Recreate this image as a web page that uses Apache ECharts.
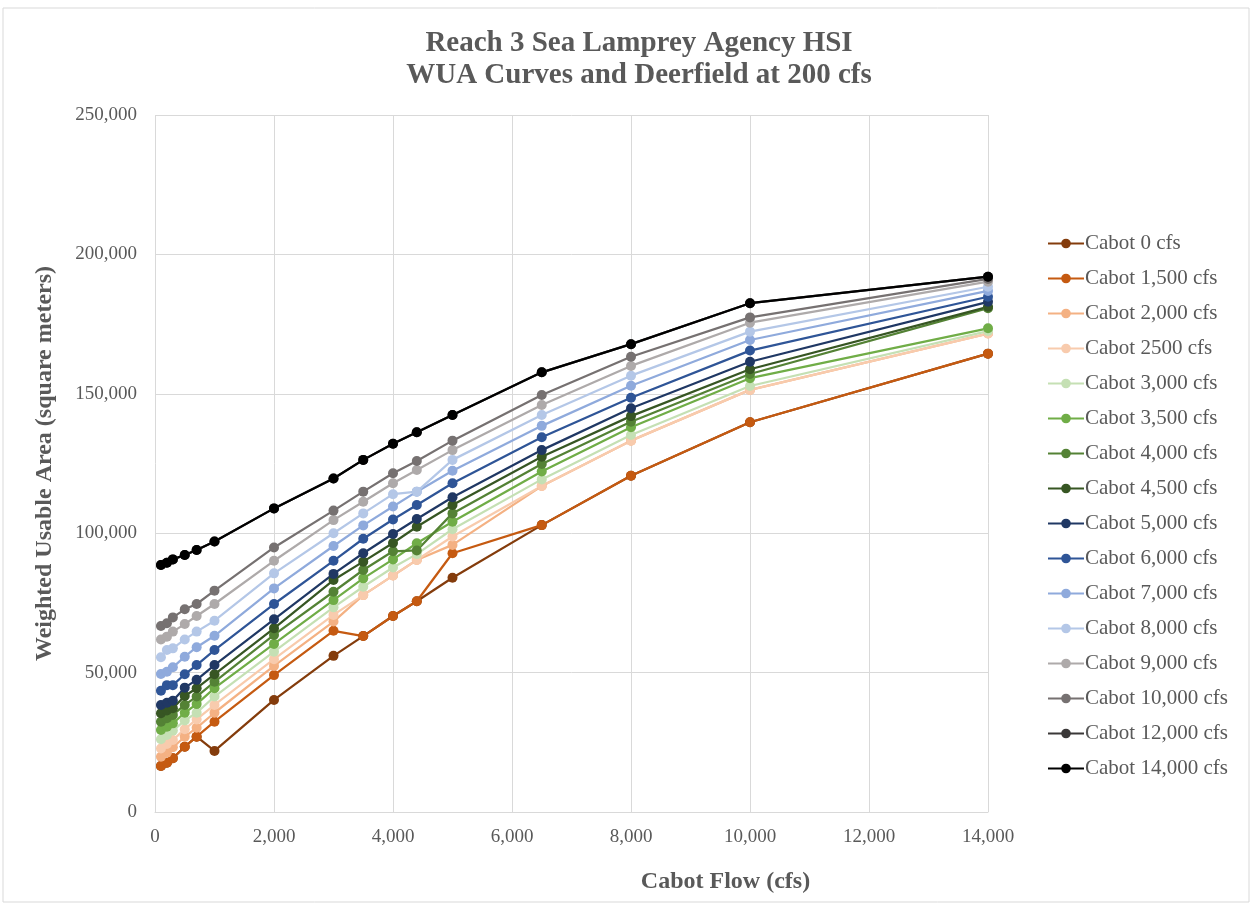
<!DOCTYPE html>
<html>
<head>
<meta charset="utf-8">
<title>Reach 3 Sea Lamprey Agency HSI</title>
<script src="https://cdn.jsdelivr.net/npm/echarts@6/dist/echarts.min.js"></script>
<style>
  html, body { margin: 0; padding: 0; background: #fff; }
  #wua-chart { width: 1252px; height: 905px; }
</style>
</head>
<body>
<div id="wua-chart"></div>
<script>
// flows on the x axis (cfs)
let flows = [100, 200, 300, 500, 700, 1000, 2000, 3000, 3500, 4000, 4400, 5000, 6500, 8000, 10000, 14000];

let seriesNames = [
  "Cabot 0 cfs", "Cabot 1,500 cfs", "Cabot 2,000 cfs", "Cabot 2500 cfs",
  "Cabot 3,000 cfs", "Cabot 3,500 cfs", "Cabot 4,000 cfs", "Cabot 4,500 cfs",
  "Cabot 5,000 cfs", "Cabot 6,000 cfs", "Cabot 7,000 cfs", "Cabot 8,000 cfs",
  "Cabot 9,000 cfs", "Cabot 10,000 cfs", "Cabot 12,000 cfs", "Cabot 14,000 cfs"
];

let seriesColors = [
  "#843C0C", "#C55A11", "#F4B183", "#F8CBAD",
  "#C5E0B4", "#70AD47", "#548235", "#375623",
  "#203864", "#2F5597", "#8FAADC", "#B4C7E7",
  "#AEAAAA", "#767171", "#3B3838", "#000000"
];

// WUA (square meters), one array per Cabot flow
let cabot0     = [16500, 17700, 19300, 23400, 27000, 21900, 40200, 56000, 63100, 70300, 75600, 84000, 102900, 120600, 139800, 164400];
let cabot1500  = [16500, 17700, 19300, 23400, 27000, 32400, 49100, 65000, 63100, 70300, 75600, 92800, 102900, 120600, 139800, 164400];
let cabot2000  = [19800, 21300, 23200, 27000, 30200, 35600, 52400, 68300, 77800, 84800, 90400, 95800, 116900, 133200, 151400, 171600];
let cabot2500  = [22800, 24400, 25800, 29700, 33200, 38400, 54800, 70700, 77800, 84800, 90400, 98800, 116900, 133200, 151400, 171600];
let cabot3000  = [26100, 27600, 29200, 32800, 35600, 41400, 57500, 73400, 80800, 87700, 92500, 101400, 119300, 135200, 152800, 172500];
let cabot3500  = [29400, 30600, 31800, 35600, 38700, 44400, 60300, 76000, 83800, 90600, 96400, 104100, 122100, 138000, 155600, 173500];
let cabot4000  = [32400, 33600, 34800, 38400, 41400, 46700, 63500, 79000, 86800, 93500, 93800, 107100, 124800, 140000, 157100, 180700];
let cabot4500  = [35400, 36400, 37200, 41600, 44400, 49400, 65900, 83200, 89800, 96500, 102300, 110100, 127400, 142000, 158800, 181200];
let cabot5000  = [38400, 39200, 39900, 44600, 47400, 52700, 69100, 85400, 92800, 99700, 105100, 112900, 129800, 144800, 161500, 183000];
let cabot6000  = [43500, 45500, 45500, 49400, 52700, 58100, 74600, 90100, 98000, 104900, 110100, 117900, 134400, 148600, 165500, 184800];
let cabot7000  = [49500, 50300, 51900, 55700, 59100, 63200, 80200, 95400, 102800, 109600, 114900, 122400, 138500, 152900, 169300, 186900];
let cabot8000  = [55500, 58100, 58700, 61900, 64700, 68600, 85600, 100000, 107100, 114000, 114900, 126300, 142400, 156500, 172300, 188400];
let cabot9000  = [61900, 62900, 64700, 67400, 70300, 74600, 90100, 104700, 111300, 117900, 122700, 129800, 146000, 160000, 175500, 190200];
let cabot10000 = [66700, 67700, 69800, 72700, 74600, 79400, 94900, 108100, 114900, 121500, 125900, 133200, 149600, 163300, 177400, 191200];
let cabot12000 = [88600, 89400, 90600, 92200, 94000, 97000, 108900, 119600, 126300, 132100, 136200, 142400, 157700, 167800, 182500, 192000];
let cabot14000 = [88600, 89400, 90600, 92200, 94000, 97000, 108900, 119600, 126300, 132100, 136200, 142400, 157700, 167800, 182500, 192000];

let allValues = [cabot0, cabot1500, cabot2000, cabot2500, cabot3000, cabot3500, cabot4000, cabot4500,
  cabot5000, cabot6000, cabot7000, cabot8000, cabot9000, cabot10000, cabot12000, cabot14000];

let fontFamily = "'Liberation Serif', 'Times New Roman', serif";
let textColor = "#595959";

function withCommas(v) {
  return String(v).replace(/\B(?=(\d{3})+(?!\d))/g, ",");
}

function showWuaChart() {
  let wua_chart = echarts.init(document.getElementById("wua-chart"));

  let series = seriesNames.map(function(name, i) {
    return {
      name: name,
      type: "line",
      data: flows.map(function(f, j) { return [f, allValues[i][j]]; }),
      symbol: "circle",
      symbolSize: 10,
      showSymbol: true,
      color: seriesColors[i],
      lineStyle: { width: 2.25, color: seriesColors[i] },
      itemStyle: { color: seriesColors[i] },
      animation: false
    };
  });

  let option = {
    backgroundColor: "#fff",
    title: {
      text: "Reach 3 Sea Lamprey Agency HSI\nWUA Curves and Deerfield at 200 cfs",
      left: 634,
      top: 23,
      textAlign: "center",
      textStyle: {
        fontFamily: fontFamily,
        fontSize: 29,
        fontWeight: "bold",
        color: textColor,
        lineHeight: 32
      }
    },
    legend: {
      orient: "vertical",
      left: 1042,
      top: 228,
      itemWidth: 36,
      itemHeight: 12,
      itemGap: 14,
      data: seriesNames,
      textStyle: {
        fontFamily: fontFamily,
        fontSize: 21,
        color: textColor,
        padding: [0, 0, 0, -4]
      }
    },
    grid: {
      left: 155,
      right: 264,
      top: 115,
      bottom: 93,
      containLabel: false
    },
    xAxis: {
      type: "value",
      min: 0,
      max: 14000,
      interval: 2000,
      name: "Cabot Flow (cfs)",
      nameLocation: "middle",
      nameGap: 58,
      nameTextStyle: {
        fontFamily: fontFamily,
        fontSize: 24,
        fontWeight: "bold",
        color: textColor,
        padding: [0, 0, 0, 308]
      },
      axisLine: { show: true, lineStyle: { color: "#D9D9D9", width: 1 } },
      axisTick: { show: false },
      axisLabel: {
        fontFamily: fontFamily,
        fontSize: 19,
        color: textColor,
        margin: 16,
        formatter: function(v) { return withCommas(v); }
      },
      splitLine: { show: true, lineStyle: { color: "#D9D9D9", width: 1 } }
    },
    yAxis: {
      type: "value",
      min: 0,
      max: 250000,
      interval: 50000,
      name: "Weighted Usable Area (square meters)",
      nameLocation: "middle",
      nameGap: 98,
      nameTextStyle: {
        fontFamily: fontFamily,
        fontSize: 24,
        fontWeight: "bold",
        color: textColor
      },
      axisLine: { show: false },
      axisTick: { show: false },
      axisLabel: {
        fontFamily: fontFamily,
        fontSize: 19,
        color: textColor,
        margin: 18,
        formatter: function(v) { return withCommas(v); }
      },
      splitLine: { show: true, lineStyle: { color: "#D9D9D9", width: 1 } }
    },
    graphic: [
      {
        type: "rect",
        shape: { x: 3, y: 8, width: 1246, height: 894 },
        style: { fill: "none", stroke: "#D9D9D9", lineWidth: 1 },
        silent: true
      }
    ],
    series: series
  };
  wua_chart.setOption(option);
}

showWuaChart();
</script>
</body>
</html>
